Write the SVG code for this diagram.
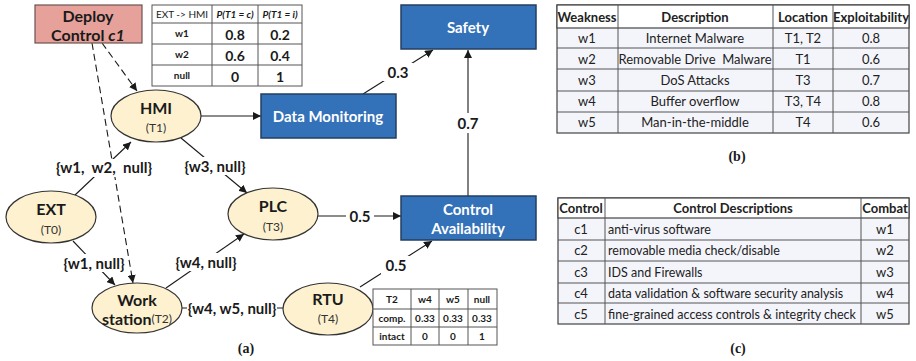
<svg xmlns="http://www.w3.org/2000/svg" width="916" height="361" viewBox="0 0 916 361">
<defs>
<marker id="arr" viewBox="0 0 10 10" refX="10" refY="5" markerWidth="8" markerHeight="8" markerUnits="userSpaceOnUse" orient="auto"><path d="M0,0 L10,5 L0,10 z" fill="#1a1a1a"/></marker>
<style>
text{font-family:Lato,"Liberation Sans",sans-serif;dominant-baseline:central;text-anchor:middle;fill:#1a1a1a}
text.ls{text-anchor:start;font-size:12.5px}
.ell{fill:#FDF1CF;stroke:#333;stroke-width:1.2}
.blue{fill:#3371B8;stroke:#243F60;stroke-width:1.5}
.wt{fill:#fff;font-weight:bold;font-size:15px}
.nl{font-weight:bold;font-size:16px}
.sub{font-size:12px;fill:#333}
.el{font-weight:bold;font-size:15px}
.ln{stroke:#1a1a1a;stroke-width:1.1;fill:none}
.dash{stroke:#1a1a1a;stroke-width:1.1;fill:none;stroke-dasharray:7,4}
.tb{fill:#fff;stroke:#555;stroke-width:1}
.tl{stroke:#555;stroke-width:1}
.st{font-size:10px;font-weight:bold}
.big{font-size:14px;font-weight:bold}
.tt{font-size:13px;fill:#222}
.th{font-size:13px;font-weight:bold;fill:#222}
.cap{font-family:"Liberation Serif",serif;font-weight:bold;font-size:14px}
.bt{fill:#F4F5FB;stroke:#444;stroke-width:1.2}
</style>
</defs>
<rect width="916" height="361" fill="#fff"/>

<g id="connectors">
<line class="ln" x1="201" y1="116" x2="261" y2="116" marker-end="url(#arr)"/>
<line class="ln" x1="363" y1="94" x2="433" y2="50" marker-end="url(#arr)"/>
<line class="ln" x1="468" y1="196" x2="468" y2="50" marker-end="url(#arr)"/>
<line class="ln" x1="318" y1="216" x2="401" y2="216" marker-end="url(#arr)"/>
<line class="ln" x1="360" y1="287" x2="432" y2="241" marker-end="url(#arr)"/>
<line class="ln" x1="74" y1="196" x2="131" y2="142" marker-end="url(#arr)"/>
<line class="ln" x1="181" y1="138" x2="247" y2="193" marker-end="url(#arr)"/>
<line class="ln" x1="73" y1="241" x2="115" y2="285" marker-end="url(#arr)"/>
<line class="ln" x1="166" y1="288" x2="244" y2="234" marker-end="url(#arr)"/>
<line class="ln" x1="182" y1="308" x2="284" y2="308"/>
<line class="dash" x1="102" y1="43" x2="137" y2="91" marker-end="url(#arr)"/>
<line class="dash" x1="92" y1="43" x2="133" y2="283" marker-end="url(#arr)"/>
<g>
<rect x="383" y="63" width="30" height="18" fill="#fff"/><text class="el" x="398" y="72">0.3</text>
<rect x="453" y="113" width="30" height="20" fill="#fff"/><text class="el" x="468" y="123">0.7</text>
<rect x="346" y="207" width="28" height="18" fill="#fff"/><text class="el" x="360" y="216">0.5</text>
<rect x="381" y="256" width="30" height="18" fill="#fff"/><text class="el" x="396" y="265">0.5</text>
<rect x="50" y="159" width="108" height="18" fill="#fff"/><text class="el" x="104" y="167" xml:space="preserve">{w1,  w2,  null}</text>
<rect x="182" y="157" width="66" height="18" fill="#fff"/><text class="el" x="215" y="166">{w3, null}</text>
<rect x="61" y="254" width="66" height="18" fill="#fff"/><text class="el" x="94" y="263">{w1, null}</text>
<rect x="173" y="253" width="66" height="18" fill="#fff"/><text class="el" x="206" y="262">{w4, null}</text>
<rect x="187" y="299" width="90" height="18" fill="#fff"/><text class="el" x="232" y="308">{w4, w5, null}</text>
</g>
</g>

<g id="deploy">
<rect x="35" y="5" width="107" height="38" fill="#E6A19B" stroke="#6b5452" stroke-width="1.2"/>
<text class="nl" x="88" y="15" font-size="17">Deploy</text>
<text class="nl" x="88" y="34" font-size="17">Control <tspan font-style="italic">c1</tspan></text>
</g>

<g id="ext-hmi-table">
<rect class="tb" x="152" y="5" width="150" height="81"/>
<line class="tl" x1="152" y1="23" x2="302" y2="23"/>
<line class="tl" x1="152" y1="44" x2="302" y2="44"/>
<line class="tl" x1="152" y1="65" x2="302" y2="65"/>
<line class="tl" x1="212" y1="5" x2="212" y2="86"/>
<line class="tl" x1="258" y1="5" x2="258" y2="86"/>
<text x="182" y="14" font-size="10">EXT -&gt; HMI</text>
<text class="st" x="235" y="14" font-style="italic">P(T1 = c)</text>
<text class="st" x="280" y="14" font-style="italic">P(T1 = i)</text>
<text class="st" x="182" y="33">w1</text><text class="big" x="235" y="34">0.8</text><text class="big" x="280" y="34">0.2</text>
<text class="st" x="182" y="54">w2</text><text class="big" x="235" y="55">0.6</text><text class="big" x="280" y="55">0.4</text>
<text class="st" x="182" y="75">null</text><text class="big" x="235" y="76">0</text><text class="big" x="280" y="76">1</text>
</g>

<g id="hmi"><ellipse class="ell" cx="156" cy="116" rx="45" ry="26"/><text class="nl" x="156" y="107">HMI</text><text class="sub" x="156" y="127">(T1)</text></g>
<g id="ext"><ellipse class="ell" cx="51" cy="217" rx="45" ry="26"/><text class="nl" x="51" y="208">EXT</text><text class="sub" x="51" y="229">(T0)</text></g>
<g id="workstation"><ellipse class="ell" cx="137" cy="308" rx="45" ry="25"/><text class="nl" x="137" y="299">Work</text><text class="nl" x="137" y="318">station<tspan class="sub" font-weight="normal">(T2)</tspan></text></g>
<g id="plc"><ellipse class="ell" cx="273" cy="214" rx="45" ry="26"/><text class="nl" x="273" y="205">PLC</text><text class="sub" x="273" y="226">(T3)</text></g>
<g id="rtu"><ellipse class="ell" cx="328" cy="309" rx="45" ry="26"/><text class="nl" x="328" y="298">RTU</text><text class="sub" x="328" y="318">(T4)</text></g>

<g id="safety"><rect class="blue" x="401" y="5" width="135" height="44"/><text class="wt" x="468" y="27">Safety</text></g>
<g id="data-monitoring"><rect class="blue" x="261" y="94" width="135" height="44"/><text class="wt" x="328" y="116">Data Monitoring</text></g>
<g id="control-availability"><rect class="blue" x="401" y="196" width="135" height="44"/><text class="wt" x="468" y="209">Control</text><text class="wt" x="468" y="228">Availability</text></g>

<g id="rtu-table">
<rect class="tb" x="373" y="289" width="124" height="56"/>
<line class="tl" x1="373" y1="309" x2="497" y2="309"/>
<line class="tl" x1="373" y1="327" x2="497" y2="327"/>
<line class="tl" x1="411" y1="289" x2="411" y2="345"/>
<line class="tl" x1="439" y1="289" x2="439" y2="345"/>
<line class="tl" x1="468" y1="289" x2="468" y2="345"/>
<text class="st" x="392" y="299">T2</text><text class="st" x="425" y="299">w4</text><text class="st" x="453" y="299">w5</text><text class="st" x="482" y="299">null</text>
<text class="st" x="392" y="318">comp.</text><text class="st" x="425" y="318">0.33</text><text class="st" x="453" y="318">0.33</text><text class="st" x="482" y="318">0.33</text>
<text class="st" x="392" y="336">intact</text><text class="st" x="425" y="336">0</text><text class="st" x="453" y="336">0</text><text class="st" x="482" y="336">1</text>
</g>
<text class="cap" x="246" y="348">(a)</text>

<g id="weakness-table">
<rect x="557" y="5" width="352" height="128" class="bt"/>
<rect x="557" y="5" width="352" height="23" fill="#fff" stroke="#444" stroke-width="1.2"/>
<g class="tl">
<line x1="557" y1="48" x2="909" y2="48"/><line x1="557" y1="69" x2="909" y2="69"/><line x1="557" y1="91" x2="909" y2="91"/><line x1="557" y1="112" x2="909" y2="112"/>
<line x1="618" y1="5" x2="618" y2="133"/><line x1="773" y1="5" x2="773" y2="133"/><line x1="833" y1="5" x2="833" y2="133"/>
</g>
<text class="th" x="587" y="17">Weakness</text><text class="th" x="695" y="17">Description</text><text class="th" x="803" y="17">Location</text><text class="th" x="871" y="17" font-size="12.5">Exploitability</text>
<text class="tt" x="587" y="38">w1</text><text class="tt" x="695" y="38">Internet Malware</text><text class="tt" x="803" y="38">T1, T2</text><text class="tt" x="871" y="38">0.8</text>
<text class="tt" x="587" y="59">w2</text><text class="tt" x="695" y="59" xml:space="preserve">Removable Drive  Malware</text><text class="tt" x="803" y="59">T1</text><text class="tt" x="871" y="59">0.6</text>
<text class="tt" x="587" y="80">w3</text><text class="tt" x="695" y="80">DoS Attacks</text><text class="tt" x="803" y="80">T3</text><text class="tt" x="871" y="80">0.7</text>
<text class="tt" x="587" y="101">w4</text><text class="tt" x="695" y="101">Buffer overflow</text><text class="tt" x="803" y="101">T3, T4</text><text class="tt" x="871" y="101">0.8</text>
<text class="tt" x="587" y="122">w5</text><text class="tt" x="695" y="122">Man-in-the-middle</text><text class="tt" x="803" y="122">T4</text><text class="tt" x="871" y="122">0.6</text>
</g>
<text class="cap" x="737" y="156">(b)</text>

<g id="control-table">
<rect x="558" y="198" width="351" height="126" class="bt"/>
<rect x="558" y="198" width="351" height="20" fill="#fff" stroke="#444" stroke-width="1.2"/>
<g class="tl">
<line x1="558" y1="240" x2="909" y2="240"/><line x1="558" y1="261" x2="909" y2="261"/><line x1="558" y1="283" x2="909" y2="283"/><line x1="558" y1="303" x2="909" y2="303"/>
<line x1="605" y1="198" x2="605" y2="324"/><line x1="861" y1="198" x2="861" y2="324"/>
</g>
<text class="th" x="581" y="208">Control</text><text class="th" x="733" y="208">Control Descriptions</text><text class="th" x="885" y="208">Combat</text>
<text class="tt" x="581" y="229">c1</text><text class="tt ls" x="608" y="229">anti-virus software</text><text class="tt" x="885" y="229">w1</text>
<text class="tt" x="581" y="250">c2</text><text class="tt ls" x="608" y="250">removable media check/disable</text><text class="tt" x="885" y="250">w2</text>
<text class="tt" x="581" y="272">c3</text><text class="tt ls" x="608" y="272">IDS and Firewalls</text><text class="tt" x="885" y="272">w3</text>
<text class="tt" x="581" y="293">c4</text><text class="tt ls" x="608" y="293">data validation &amp; software security analysis</text><text class="tt" x="885" y="293">w4</text>
<text class="tt" x="581" y="314">c5</text><text class="tt ls" x="608" y="314">fine-grained access controls &amp; integrity check</text><text class="tt" x="885" y="314">w5</text>
</g>
<text class="cap" x="738" y="348">(c)</text>
</svg>
